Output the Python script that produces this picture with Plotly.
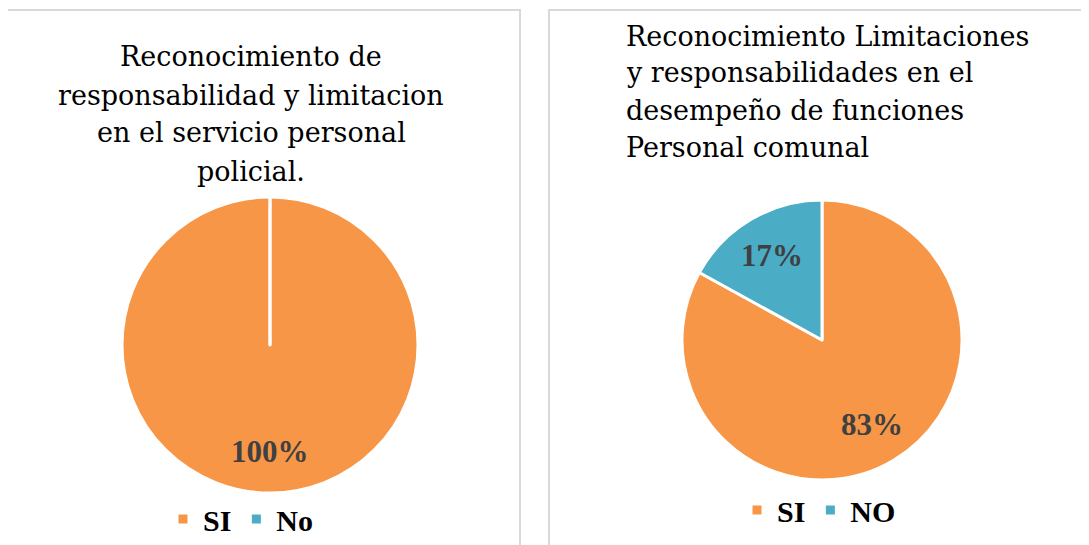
import numpy as np
import plotly.graph_objects as go

W, H = 1089, 545
OFF = 8  # default body margin of the written html page

# left chart
left_title = ["Reconocimiento de", "responsabilidad y limitacion",
              "en el servicio personal", "policial."]
left_labels = ["SI", "No"]
left_values = [100, 0]

# right chart
right_title = ["Reconocimiento Limitaciones", "y responsabilidades en el",
               "desempeño de funciones", "Personal comunal"]
right_labels = ["SI", "NO"]
right_values = [83, 17]

COLORS = ["#F79646", "#4BACC6"]
SERIF = "Liberation Serif"
TITLE_FONT = dict(family="DejaVu Serif", size=27, color="#000000")


def px_x(x):
    return (x - OFF) / W


def px_y(y):
    return 1 - (y - OFF) / H


def pct_annotations(values, cx, cy, r, frac=0.71):
    # label each slice at its mid angle (clockwise from 12 o'clock)
    total = float(np.sum(values))
    out = []
    start = 0.0
    for v in values:
        share = v / total
        if share > 0:
            theta = 2 * np.pi * (start + share / 2)
            x = cx + frac * r * np.sin(theta)
            y = cy - frac * r * np.cos(theta)
            out.append(dict(x=px_x(x), y=px_y(y), xref="paper", yref="paper",
                            xanchor="center", yanchor="middle",
                            text=f"{round(share * 100)}%", showarrow=False,
                            font=dict(family=SERIF, size=31, color="#404040", weight="bold")))
        start += share
    return out


def title_lines(lines, x, y0, anchor, step=38):
    return [dict(x=px_x(x), y=px_y(y0 + i * step), xref="paper", yref="paper", text=t,
                 showarrow=False, xanchor=anchor, yanchor="middle", font=TITLE_FONT)
            for i, t in enumerate(lines)]


# pie geometry in pixels (center, radius)
L_CX, L_CY, L_R = 270, 345, 148
R_CX, R_CY, R_R = 822, 340, 140

fig = go.Figure()
fig.add_trace(go.Pie(
    labels=left_labels, values=left_values, sort=False, direction="clockwise", rotation=0,
    marker=dict(colors=COLORS, line=dict(color="white", width=3)),
    textinfo="none", hoverinfo="label+percent", legend="legend",
    domain=dict(x=[px_x(L_CX - L_R), px_x(L_CX + L_R)], y=[px_y(L_CY + L_R), px_y(L_CY - L_R)]),
))
# zero-width space keeps the right legend entries apart from the left ones
fig.add_trace(go.Pie(
    labels=[lab + "\u200b" for lab in right_labels], values=right_values, sort=False,
    direction="clockwise", rotation=0,
    marker=dict(colors=COLORS, line=dict(color="white", width=3)),
    textinfo="none", hoverinfo="label+percent", legend="legend2",
    domain=dict(x=[px_x(R_CX - R_R), px_x(R_CX + R_R)], y=[px_y(R_CY + R_R), px_y(R_CY - R_R)]),
))

annotations = title_lines(left_title, 251, 57, "center")
annotations += title_lines(right_title, 624, 36, "left", step=37)
annotations += pct_annotations(left_values, L_CX, L_CY, L_R, 0.72)
annotations += pct_annotations(right_values, R_CX, R_CY, R_R, 0.70)

shapes = [
    dict(type="rect", xref="paper", yref="paper", x0=px_x(7), x1=px_x(520), y0=px_y(570), y1=px_y(10),
         line=dict(color="#D9D9D9", width=2)),
    dict(type="rect", xref="paper", yref="paper", x0=px_x(549), x1=px_x(1110), y0=px_y(570), y1=px_y(10),
         line=dict(color="#D9D9D9", width=2)),
    # slice boundary at 12 o'clock of the full pie
    dict(type="line", xref="paper", yref="paper", x0=px_x(L_CX), x1=px_x(L_CX),
         y0=px_y(L_CY), y1=px_y(L_CY - L_R), line=dict(color="white", width=3)),
]

legend_font = dict(family=SERIF, size=30, color="#000000", weight="bold")
fig.update_layout(
    width=W, height=H, margin=dict(l=0, r=0, t=0, b=0),
    paper_bgcolor="white", plot_bgcolor="white",
    annotations=annotations, shapes=shapes,
    legend=dict(orientation="h", x=px_x(163), y=px_y(519), xanchor="left", yanchor="middle",
                font=legend_font, itemclick=False, bgcolor="rgba(0,0,0,0)"),
    legend2=dict(orientation="h", x=px_x(737), y=px_y(510), xanchor="left", yanchor="middle",
                 font=legend_font, itemclick=False, bgcolor="rgba(0,0,0,0)"),
)

fig.write_html("out.html")
